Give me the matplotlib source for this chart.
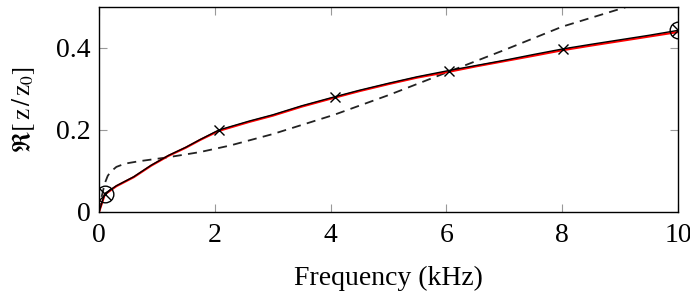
import matplotlib.pyplot as plt

plt.rcParams['font.family'] = ['Liberation Serif', 'DejaVu Serif']
plt.rcParams['mathtext.fontset'] = 'stix'

# measured response (black, with markers)
f_meas = [0.0, 0.1, 0.3, 0.6, 0.9, 1.2, 1.5, 1.75, 2.07, 2.6, 3.0, 3.5, 4.07, 4.5, 5.0, 5.5, 6.04, 6.5, 7.0, 7.5, 8.02, 8.5, 9.0, 9.5, 10.0]
r_meas = [0.0, 0.045, 0.064, 0.086, 0.114, 0.138, 0.158, 0.177, 0.200, 0.222, 0.237, 0.259, 0.281, 0.297, 0.314, 0.330, 0.345, 0.357, 0.370, 0.384, 0.398, 0.409, 0.420, 0.431, 0.443]

# model fit (red)
f_fit = [0.0, 0.1, 0.3, 0.6, 0.9, 1.2, 1.5, 1.75, 2.07, 2.6, 3.0, 3.5, 4.07, 4.5, 5.0, 5.5, 6.04, 6.5, 7.0, 7.5, 8.02, 8.5, 9.0, 9.5, 10.0]
r_fit = [0.0, 0.043, 0.063, 0.085, 0.113, 0.137, 0.157, 0.176, 0.198, 0.220, 0.235, 0.257, 0.279, 0.295, 0.312, 0.328, 0.342, 0.355, 0.368, 0.381, 0.395, 0.406, 0.417, 0.428, 0.439]

# simple model (dashed)
f_dash = [0.0, 0.05, 0.1, 0.15, 0.2, 0.3, 0.45, 0.7, 1.17, 1.74, 2.26, 3.0, 4.06, 5.0, 6.0, 7.0, 8.0, 9.2]
r_dash = [0.0, 0.04, 0.07, 0.088, 0.098, 0.110, 0.118, 0.124, 0.133, 0.146, 0.162, 0.190, 0.237, 0.285, 0.340, 0.395, 0.452, 0.504]

# marker positions
f_x = [2.07, 4.07, 6.04, 8.02]
r_x = [0.200, 0.281, 0.345, 0.398]
f_o = [0.1, 10.0]
r_o = [0.045, 0.443]

fig = plt.figure(figsize=(6.9, 2.91), dpi=100)
ax = fig.add_axes([0.1435, 0.2715, 0.8391, 0.7045])

ax.plot(f_dash, r_dash, color='#222222', lw=1.3, ls=(0, (5, 3.5)))
ax.plot(f_fit, r_fit, color='red', lw=1.6)
ax.plot(f_meas, r_meas, color='black', lw=1.0)
ax.plot(f_x, r_x, ls='none', marker='x', ms=7, mew=1.0, color='black')
ax.plot(f_o, r_o, ls='none', marker='x', ms=8, mew=1.0, color='black')
ax.plot(f_o, r_o, ls='none', marker='o', ms=12, mew=1.0, mfc='none', mec='black')

ax.set_xlim(0, 10)
ax.set_ylim(0, 0.5)
ax.set_xticks([0, 2, 4, 6, 8, 10])
ax.set_xticklabels(['0', '2', '4', '6', '8', '10'])
ax.set_yticks([0, 0.2, 0.4])
ax.set_yticklabels(['0', '0.2', '0.4'])
ax.tick_params(direction='in', length=6, width=0.8, color='#999999',
               top=True, right=True, labelsize=20, pad=6)
ax.tick_params(axis='x', pad=8)
for s in ax.spines.values():
    s.set_linewidth(1.0)

ax.set_xlabel('Frequency (kHz)', fontsize=20, labelpad=13)
ax.set_ylabel(r'$\Re[\,\mathrm{z}\,/\,\mathrm{z}_0]$', fontsize=18, labelpad=14)

fig.savefig('out.png', dpi=100)
